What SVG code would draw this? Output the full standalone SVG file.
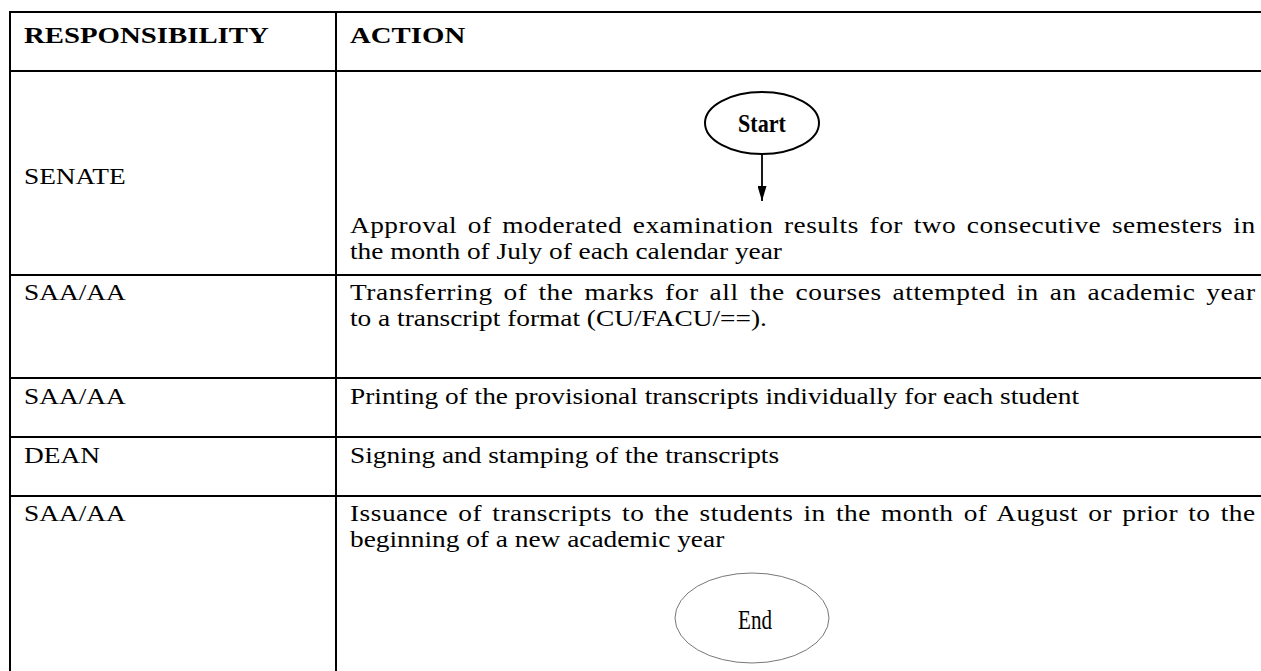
<svg xmlns="http://www.w3.org/2000/svg" width="1261" height="671" viewBox="0 0 1261 671">
  <style>
    .grid { stroke: #000; stroke-width: 2; fill: none; }
    .t { font-family: "Liberation Serif", "Times New Roman", serif; font-size: 24px; fill: #000; }
    .b { font-weight: bold; }
    .term { font-family: "Liberation Serif", "Times New Roman", serif; fill: #000; text-anchor: middle; }
  </style>
  <defs>
    <marker id="ah" viewBox="0 0 10 10" refX="10" refY="5" markerWidth="15" markerHeight="9" markerUnits="userSpaceOnUse" orient="auto" preserveAspectRatio="none">
      <path d="M0,0 L10,5 L0,10 Z" fill="#000"/>
    </marker>
  </defs>
  <rect x="0" y="0" width="1261" height="671" fill="#fff"/>

  <g id="table">
    <line class="grid" x1="10" y1="12" x2="1261" y2="12"/>
    <line class="grid" x1="10" y1="71" x2="1261" y2="71"/>
    <line class="grid" x1="10" y1="275" x2="1261" y2="275"/>
    <line class="grid" x1="10" y1="378" x2="1261" y2="378"/>
    <line class="grid" x1="10" y1="437" x2="1261" y2="437"/>
    <line class="grid" x1="10" y1="496" x2="1261" y2="496"/>
    <line class="grid" x1="10" y1="11" x2="10" y2="671"/>
    <line class="grid" x1="336" y1="11" x2="336" y2="671"/>
  </g>

  <g id="headers" transform="scale(1.2,1)">
    <text class="t b" x="20" y="43">RESPONSIBILITY</text>
    <text class="t b" x="291.7" y="43">ACTION</text>
  </g>

  <g id="texts" transform="scale(1.14,1)">
    <text class="t" x="21" y="184">SENATE</text>
    <text class="t" x="307" y="233" word-spacing="3" textLength="794" lengthAdjust="spacing">Approval of moderated examination results for two consecutive semesters in</text>
    <text class="t" x="307" y="259">the month of July of each calendar year</text>
    <text class="t" x="21" y="300">SAA/AA</text>
    <text class="t" x="307" y="300" word-spacing="3" textLength="794" lengthAdjust="spacing">Transferring of the marks for all the courses attempted in an academic year</text>
    <text class="t" x="307" y="326">to a transcript format (CU/FACU/==).</text>
    <text class="t" x="21" y="404">SAA/AA</text>
    <text class="t" x="307" y="404">Printing of the provisional transcripts individually for each student</text>
    <text class="t" x="21" y="463">DEAN</text>
    <text class="t" x="307" y="463">Signing and stamping of the transcripts</text>
    <text class="t" x="21" y="521">SAA/AA</text>
    <text class="t" x="307" y="521" word-spacing="2.5" textLength="794" lengthAdjust="spacing">Issuance of transcripts to the students in the month of August or prior to the</text>
    <text class="t" x="307" y="547">beginning of a new academic year</text>
  </g>

  <g id="start">
    <ellipse cx="762" cy="123" rx="57" ry="31" fill="#fff" stroke="#000" stroke-width="2"/>
    <text class="term" x="0" y="0" font-size="26" font-weight="bold" transform="translate(762,132) scale(0.85,1)">Start</text>
  </g>

  <g id="end">
    <ellipse cx="752" cy="618" rx="77" ry="45" fill="#fff" stroke="#777" stroke-width="1"/>
    <text class="term" x="0" y="0" font-size="27" transform="translate(755,629) scale(0.78,1)">End</text>
  </g>

  <g id="connectors">
    <line x1="762" y1="154" x2="762" y2="201" stroke="#000" stroke-width="1.8" marker-end="url(#ah)"/>
  </g>
</svg>
